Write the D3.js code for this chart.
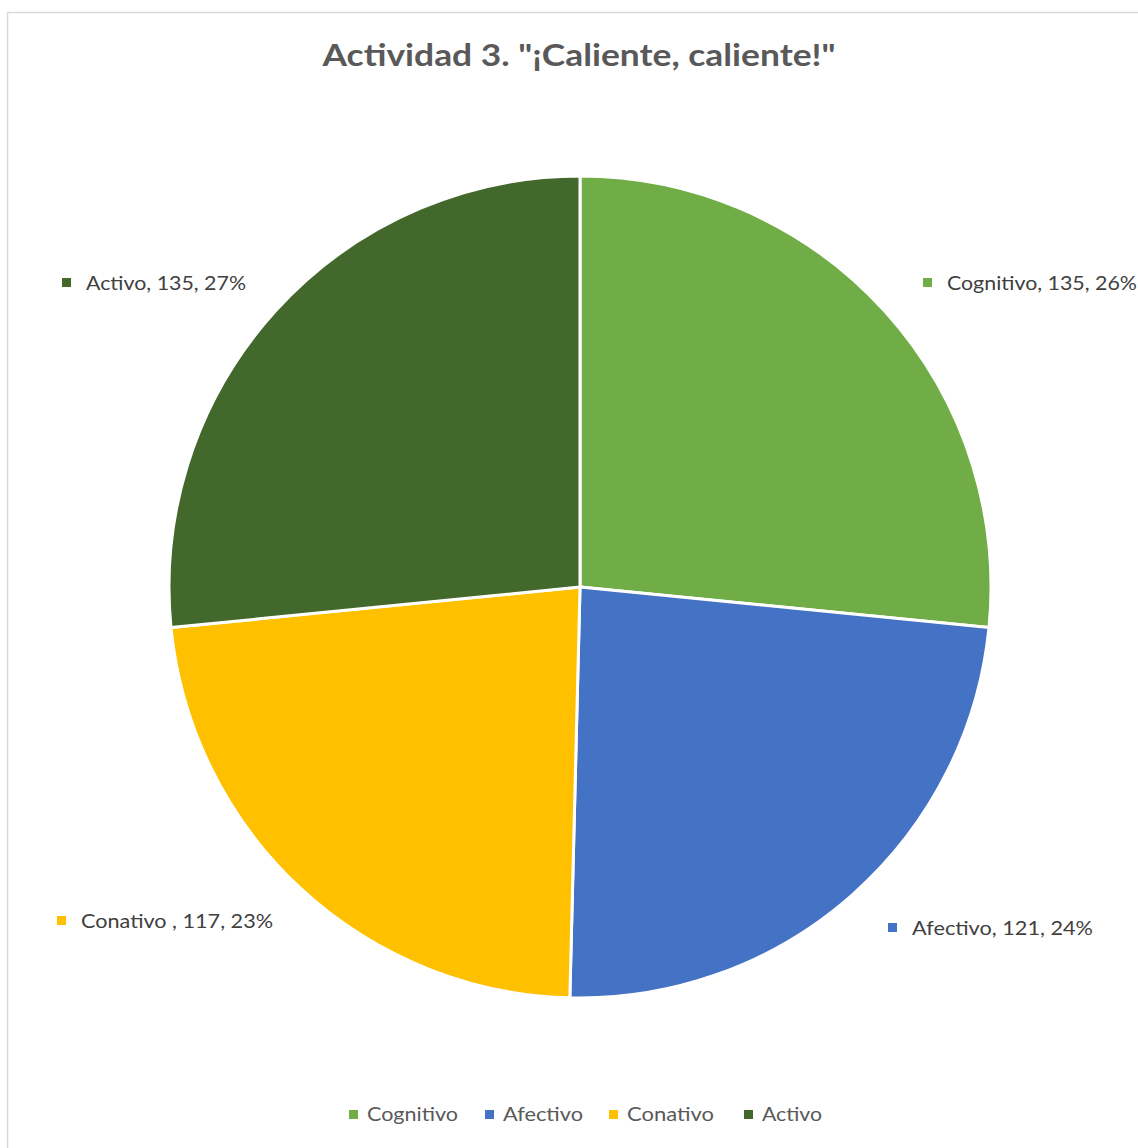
<!DOCTYPE html>
<html><head><meta charset="utf-8">
<script src="https://cdn.jsdelivr.net/npm/d3@7"></script>
<style>body{margin:0;background:#fff}svg{display:block}</style>
</head><body>
<script>
const title = 'Actividad 3. "¡Caliente, caliente!"';
const categories = ["Cognitivo", "Afectivo", "Conativo ", "Activo"];
const legendNames = ["Cognitivo", "Afectivo", "Conativo", "Activo"];
const values = [135, 121, 117, 135];
const percentLabels = ["26%", "24%", "23%", "27%"];
const colors = ["#70AD47", "#4472C4", "#FFC000", "#43682B"];

const W = 1138, H = 1148;
const svg = d3.select("body").append("svg").attr("width", W).attr("height", H);
const font = "Lato, 'Open Sans', sans-serif";

svg.append("rect").attr("x", 7.5).attr("y", 12.5).attr("width", W).attr("height", H)
  .attr("fill", "#fff").attr("stroke", "#d9d9d9").attr("stroke-width", 1.5);

svg.append("text").attr("x", 579).attr("y", 66).attr("text-anchor", "middle")
  .attr("font-family", font).attr("font-weight", "bold").attr("font-size", 31)
  .attr("fill", "#595959").text(title)
  .attr("textLength", 513).attr("lengthAdjust", "spacingAndGlyphs");

const cx = 580, cy = 587, r = 411;
const pie = d3.pie().sort(null).value(d => d);
const arcs = pie(values);
const arc = d3.arc().innerRadius(0).outerRadius(r);
const g = svg.append("g").attr("transform", `translate(${cx},${cy})`);
g.selectAll("path").data(arcs).join("path")
  .attr("d", arc).attr("fill", (d, i) => colors[i])
  .attr("stroke", "#fff").attr("stroke-width", 3).attr("stroke-linejoin", "round");

// data labels (outside, with marker)
const labelPos = [[923, 283], [888, 928], [57, 921], [62, 283]];
const labelW = [190, 181, 192, 160];
arcs.forEach((a, i) => {
  const [x, y] = labelPos[i];
  svg.append("rect").attr("x", x).attr("y", y - 5).attr("width", 9).attr("height", 9).attr("fill", colors[i]);
  svg.append("text").attr("x", x + 24).attr("y", y + 7)
    .attr("font-family", font).attr("font-size", 20).attr("fill", "#404040")
    .text(`${categories[i]}, ${values[i]}, ${percentLabels[i]}`)
    .attr("textLength", labelW[i]).attr("lengthAdjust", "spacingAndGlyphs");
});

// legend
const legX = [349, 485, 609, 744];
const legW = [91, 80, 87, 60];
legendNames.forEach((n, i) => {
  svg.append("rect").attr("x", legX[i]).attr("y", 1110).attr("width", 9).attr("height", 9).attr("fill", colors[i]);
  svg.append("text").attr("x", legX[i] + 18).attr("y", 1121)
    .attr("font-family", font).attr("font-size", 20).attr("fill", "#595959").text(n)
    .attr("textLength", legW[i]).attr("lengthAdjust", "spacingAndGlyphs");
});
</script>
</body></html>
